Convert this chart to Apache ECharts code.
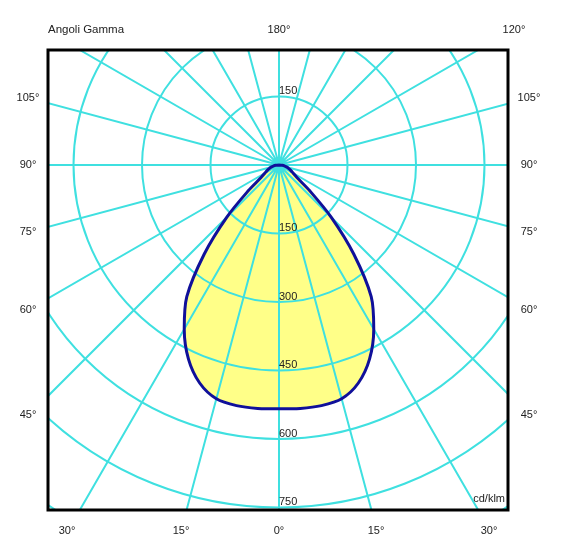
<!DOCTYPE html>
<html>
<head>
<meta charset="utf-8">
<script src="https://cdn.jsdelivr.net/npm/echarts@6/dist/echarts.min.js"></script>
<style>
  html, body { margin: 0; padding: 0; background: #fff; }
  #chart { width: 561px; height: 546px; }
</style>
</head>
<body>
<div id="chart"></div>
<script>
// Gamma angles (degrees from nadir) and luminous intensity (cd/klm), symmetric curve
const gammaDeg = [0, 5, 10, 15, 20, 25, 30, 35, 40, 45, 50, 55, 60, 65, 70, 75, 80, 85, 90];
const intensity = [534, 535, 535, 530, 508, 469, 415, 352, 255, 162, 88, 48, 36, 29, 23, 18, 13, 7, 0];

// Radius tick labels (cd/klm)
const radiusTicks = [150, 300, 450, 600, 750];
const topRadiusTicks = [150];

// Angle labels around the frame
const topTitle = 'Angoli Gamma';
const topLabels = ['180°', '120°'];
const sideLabels = ['105°', '90°', '75°', '60°', '45°'];
const bottomLabels = ['30°', '15°', '0°', '15°', '30°'];
const unitLabel = 'cd/klm';

const GRID = '#3fe0e0';
const TXT = '#222';
const FONT = 'Arial, "Liberation Sans", sans-serif';

const curve = [];
for (let i = gammaDeg.length - 1; i >= 0; i--) curve.push([intensity[i], -gammaDeg[i]]);
for (let i = 1; i < gammaDeg.length; i++) curve.push([intensity[i], gammaDeg[i]]);

const chart = echarts.init(document.getElementById('chart'), null, { renderer: 'canvas' });

// frame / label layout
const box = { x: 48, y: 50, w: 460, h: 460 };
const sideY = [98, 165, 232, 310, 415];
const bottomX = [67, 181, 279, 376, 489];
const topX = [279, 514];

const graphics = [];
// white masks outside the frame
graphics.push({ type: 'rect', z: 100, shape: { x: 0, y: 0, width: 561, height: box.y }, style: { fill: '#fff' } });
graphics.push({ type: 'rect', z: 100, shape: { x: 0, y: 0, width: box.x, height: 546 }, style: { fill: '#fff' } });
graphics.push({ type: 'rect', z: 100, shape: { x: box.x + box.w, y: 0, width: 561, height: 546 }, style: { fill: '#fff' } });
graphics.push({ type: 'rect', z: 100, shape: { x: 0, y: box.y + box.h, width: 561, height: 546 }, style: { fill: '#fff' } });
// frame
graphics.push({ type: 'rect', z: 110, shape: { x: box.x, y: box.y, width: box.w, height: box.h }, style: { fill: null, stroke: '#000', lineWidth: 3 } });

function txt(t, x, y, align, size) {
  return { type: 'text', z: 120, x: x, y: y, style: { text: t, fill: TXT, font: (size || 11) + 'px ' + FONT, textAlign: align || 'center', textVerticalAlign: 'middle' } };
}
graphics.push(txt(topTitle, 48, 30, 'left', 11.5));
topLabels.forEach((t, i) => graphics.push(txt(t, topX[i], 30, 'center')));
sideLabels.forEach((t, i) => {
  graphics.push(txt(t, 28, sideY[i], 'center'));
  graphics.push(txt(t, 529, sideY[i], 'center'));
});
bottomLabels.forEach((t, i) => graphics.push(txt(t, bottomX[i], 531, 'center')));
graphics.push(txt(unitLabel, 505, 499, 'right'));

const radiusLabelData = radiusTicks.map(r => [r, 0]).concat(topRadiusTicks.map(r => [r, 180]));

chart.setOption({
  animation: false,
  backgroundColor: '#fff',
  polar: { center: [279, 165], radius: 479.5 },
  angleAxis: {
    type: 'value', min: -180, max: 180, interval: 15, startAngle: 90, clockwise: true, z: 2,
    axisLine: { show: false }, axisTick: { show: false }, axisLabel: { show: false },
    splitLine: { show: true, lineStyle: { color: GRID, width: 2 } }
  },
  radiusAxis: {
    type: 'value', min: 0, max: 1050, interval: 150, z: 2,
    axisLine: { show: false }, axisTick: { show: false }, axisLabel: { show: false },
    splitLine: { show: true, lineStyle: { color: GRID, width: 2 } }
  },
  series: [
    {
      type: 'line', coordinateSystem: 'polar', data: curve, z: 1, smooth: 0.3,
      symbol: 'none', lineStyle: { width: 0, opacity: 0 },
      areaStyle: { color: '#ffff88', opacity: 1 }
    },
    {
      type: 'line', coordinateSystem: 'polar', data: curve, z: 3, smooth: 0.3,
      symbol: 'none', lineStyle: { width: 3, color: '#10109a' }
    },
    {
      type: 'scatter', coordinateSystem: 'polar', data: radiusLabelData, z: 4,
      symbolSize: 0, silent: true,
      label: {
        show: true, position: [0, 0], align: 'left', verticalAlign: 'bottom',
        formatter: p => String(p.value[0]), color: TXT, fontSize: 11, fontFamily: FONT,
        textBorderWidth: 0, opacity: 1
      }
    }
  ],
  graphic: graphics
});
</script>
</body>
</html>
